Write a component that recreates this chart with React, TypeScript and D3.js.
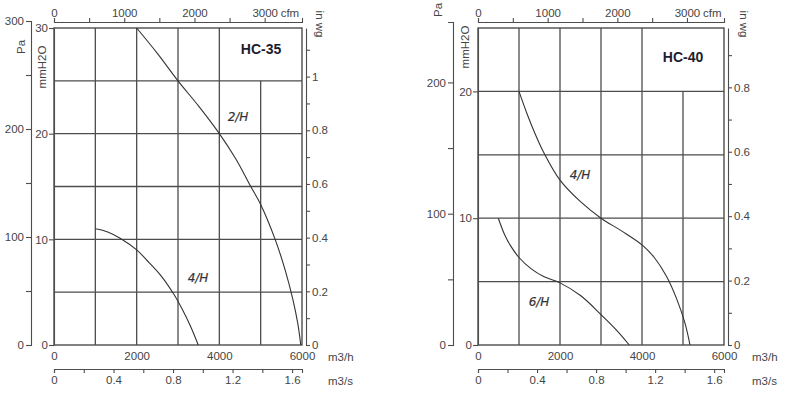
import React, { useEffect, useRef } from "react";
import * as d3 from "d3";

// curve points: [flow m3/h, pressure mmH2O]
const hc35Curve2H: [number, number][] = [
  [2000, 30], [2500, 27.6], [3000, 25], [3500, 22.6], [4000, 20], [4400, 17.6],
  [4760, 15], [5000, 13.3], [5350, 10], [5600, 7], [5780, 4.3], [5900, 2], [5970, 0],
];
const hc35Curve4H: [number, number][] = [
  [1000, 11], [1300, 10.7], [1600, 10.1], [2000, 9], [2300, 7.8], [2600, 6.5],
  [2900, 4.8], [3100, 3.4], [3300, 1.8], [3490, 0],
];
const hc40Curve4H: [number, number][] = [
  [1000, 20], [1200, 18.2], [1400, 16.6], [1600, 15.2], [2000, 13], [2500, 11.3],
  [3000, 10], [3500, 9], [4000, 7.9], [4300, 6.9], [4600, 5.4], [4850, 3.6],
  [5050, 1.7], [5170, 0],
];
const hc40Curve6H: [number, number][] = [
  [495, 10], [650, 8.7], [800, 7.8], [1000, 6.9], [1300, 6], [1600, 5.4],
  [2000, 4.9], [2500, 3.9], [3000, 2.4], [3400, 1.1], [3690, 0],
];

const flowLabels = [0, 2000, 4000, 6000];
const flowGrid = [1000, 2000, 3000, 4000, 5000];
const cfmTicks = [0, 500, 1000, 1500, 2000, 2500, 3000];
const cfmLabels = [0, 1000, 2000, 3000];
const m3sTicks = [0, 0.2, 0.4, 0.6, 0.8, 1, 1.2, 1.4, 1.6];
const m3sLabels = [0, 0.4, 0.8, 1.2, 1.6];

const hc35PaTicks = [0, 50, 100, 150, 200, 250, 300];
const hc35PaLabels = [0, 100, 200, 300];
const hc35MmTicks = [0, 10, 20, 30];
const hc35MmGrid = [5, 10, 15, 20, 25];
const hc35WgTicks = [0, 0.1, 0.2, 0.3, 0.4, 0.5, 0.6, 0.7, 0.8, 0.9, 1, 1.1];

const hc40PaTicks = [0, 50, 100, 150, 200];
const hc40PaLabels = [0, 100, 200];
const hc40MmTicks = [0, 10, 20];
const hc40MmGrid = [5, 10, 15, 20];
const hc40WgTicks = [0, 0.1, 0.2, 0.3, 0.4, 0.5, 0.6, 0.7, 0.8, 0.9];

const wgLabels = [0, 0.2, 0.4, 0.6, 0.8, 1];

const charts = [
  {
    title: "HC-35",
    left: 54, right: 302, top: 28, bottom: 345,
    mmMax: 30, paMax: 300, paTop: 21, paAxisX: 31, wgAxisX: 306,
    gridCut: 25,
    mmTicks: hc35MmTicks, mmGrid: hc35MmGrid,
    paTicks: hc35PaTicks, paLabels: hc35PaLabels, wgTicks: hc35WgTicks,
    titlePos: [261, 54], paPos: [21, 47], mmPos: [42, 67], wgPos: [320, 24], unitX: 328,
    curves: [
      { data: hc35Curve2H, label: "2/H", lx: 238, ly: 121 },
      { data: hc35Curve4H, label: "4/H", lx: 198, ly: 282 },
    ],
  },
  {
    title: "HC-40",
    left: 478, right: 724, top: 28, bottom: 345,
    mmMax: 25, paMax: 246, paTop: 22, paAxisX: 453, wgAxisX: 728,
    gridCut: 20,
    mmTicks: hc40MmTicks, mmGrid: hc40MmGrid,
    paTicks: hc40PaTicks, paLabels: hc40PaLabels, wgTicks: hc40WgTicks,
    titlePos: [683, 62], paPos: [438, 10], mmPos: [465, 47], wgPos: [744, 24], unitX: 752,
    curves: [
      { data: hc40Curve4H, label: "4/H", lx: 580, ly: 179 },
      { data: hc40Curve6H, label: "6/H", lx: 539, ly: 306 },
    ],
  },
];

const FONT = "'Liberation Sans', Arial, sans-serif";
const GRID = "#4d4d4d";
const TXT = "#454545";

function styleAxis(g: any) {
  g.attr("font-family", FONT).attr("font-size", 11.5);
  g.selectAll("path").attr("stroke", GRID).attr("stroke-width", 1.1);
  g.selectAll("line").attr("stroke", GRID).attr("stroke-width", 1.1);
  g.selectAll("text").attr("fill", TXT);
}

function drawChart(root: any, c: any) {
  const x = d3.scaleLinear().domain([0, 6000]).range([c.left, c.right]);
  const y = d3.scaleLinear().domain([0, c.mmMax]).range([c.bottom, c.top]);
  const pa = d3.scaleLinear().domain([0, c.paMax]).range([c.bottom, c.paTop]);
  const wg = d3.scaleLinear().domain([0, c.mmMax / 25.4]).range([c.bottom, c.top]);
  const cfm = d3.scaleLinear().domain([0, 6000 / 1.699]).range([c.left, c.right]);
  const m3s = d3.scaleLinear().domain([0, 6000 / 3600]).range([c.left, c.right]);

  // grid
  const grid = root.append("g").attr("stroke", GRID).attr("stroke-width", 1.3);
  grid.selectAll(".h").data(c.mmGrid).join("line")
    .attr("x1", c.left).attr("x2", c.right)
    .attr("y1", (d: number) => y(d)).attr("y2", (d: number) => y(d));
  grid.selectAll(".v").data(flowGrid).join("line")
    .attr("x1", (d: number) => x(d)).attr("x2", (d: number) => x(d))
    .attr("y1", (d: number) => (d === 5000 ? y(c.gridCut) : c.top))
    .attr("y2", c.bottom);
  root.append("rect")
    .attr("x", c.left).attr("y", c.top)
    .attr("width", c.right - c.left).attr("height", c.bottom - c.top)
    .attr("fill", "none").attr("stroke", GRID).attr("stroke-width", 1.4);

  // curves
  const line = d3.line<[number, number]>()
    .x((d) => x(d[0]))
    .y((d) => y(d[1]))
    .curve(d3.curveCatmullRom.alpha(0.5));
  c.curves.forEach((cv: any) => {
    root.append("path").attr("d", line(cv.data))
      .attr("fill", "none").attr("stroke", "#333").attr("stroke-width", 1.1);
    root.append("text").attr("x", cv.lx).attr("y", cv.ly)
      .attr("text-anchor", "middle")
      .attr("font-family", "'DejaVu Sans', sans-serif").attr("font-style", "italic")
      .attr("font-size", 12).attr("fill", "#333").attr("stroke", "#333").attr("stroke-width", 0.2)
      .text(cv.label);
  });

  // top cfm axis
  const gCfm = root.append("g").attr("transform", "translate(0,22)")
    .call(d3.axisTop(cfm).tickValues(cfmTicks).tickSize(4).tickSizeOuter(4).tickPadding(1)
      .tickFormat((d: any) => (cfmLabels.includes(d) ? String(d) : "")));
  styleAxis(gCfm);
  root.append("text").attr("x", cfm(3000) + 16).attr("y", 17)
    .attr("font-family", FONT).attr("font-size", 11.5).attr("fill", TXT).text("cfm");

  // Pa axis
  const gPa = root.append("g").attr("transform", `translate(${c.paAxisX},0)`)
    .call(d3.axisLeft(pa).tickValues(c.paTicks).tickSize(5).tickSizeOuter(5).tickPadding(2)
      .tickFormat((d: any) => (c.paLabels.includes(d) ? String(d) : "")));
  styleAxis(gPa);

  // mmH2O axis
  const gMm = root.append("g").attr("transform", `translate(${c.left},0)`)
    .call(d3.axisLeft(y).tickValues(c.mmTicks).tickSize(5).tickSizeOuter(0).tickPadding(1)
      .tickFormat((d: any) => String(d)));
  styleAxis(gMm);

  // in wg axis
  const gWg = root.append("g").attr("transform", `translate(${c.wgAxisX},0)`)
    .call(d3.axisRight(wg).tickValues(c.wgTicks).tickSize(4).tickSizeOuter(0).tickPadding(2)
      .tickFormat((d: any) => (wgLabels.includes(d) ? String(d) : "")));
  styleAxis(gWg);

  // m3/h labels
  const gFlow = root.append("g").attr("transform", `translate(0,${c.bottom})`)
    .call(d3.axisBottom(x).tickValues(flowLabels).tickSize(0).tickPadding(7)
      .tickFormat((d: any) => String(d)));
  gFlow.select(".domain").remove();
  styleAxis(gFlow);

  // m3/s axis
  const gM3s = root.append("g").attr("transform", "translate(0,369)")
    .call(d3.axisBottom(m3s).tickValues(m3sTicks).tickSize(4).tickSizeOuter(4).tickPadding(3)
      .tickFormat((d: any) => (m3sLabels.includes(d) ? String(d) : "")));
  styleAxis(gM3s);

  // unit labels
  const unit = (txt: string, tx: number, ty: number, rot: number) =>
    root.append("text")
      .attr("transform", `translate(${tx},${ty}) rotate(${rot})`)
      .attr("text-anchor", rot === 0 ? "start" : "middle")
      .attr("dominant-baseline", "central")
      .attr("font-family", FONT).attr("font-size", 11.5).attr("fill", TXT)
      .text(txt);
  unit("Pa", c.paPos[0], c.paPos[1], -90);
  unit("mmH2O", c.mmPos[0], c.mmPos[1], -90);
  unit("in wg", c.wgPos[0], c.wgPos[1], 90);
  unit("m3/h", c.unitX, 357, 0);
  unit("m3/s", c.unitX, 381, 0);

  root.append("text").attr("x", c.titlePos[0]).attr("y", c.titlePos[1])
    .attr("text-anchor", "middle")
    .attr("font-family", FONT).attr("font-weight", "bold").attr("font-size", 14)
    .attr("fill", "#1c1c30").text(c.title);
}

export default function App() {
  const svgRef = useRef<SVGSVGElement>(null);

  useEffect(() => {
    const svg = d3.select(svgRef.current);
    svg.selectAll("*").remove();
    charts.forEach((c) => drawChart(svg.append("g"), c));
  }, []);

  return (
    <svg
      ref={svgRef}
      width={800}
      height={393}
      style={{ position: "absolute", left: 0, top: 0, background: "white" }}
    />
  );
}
